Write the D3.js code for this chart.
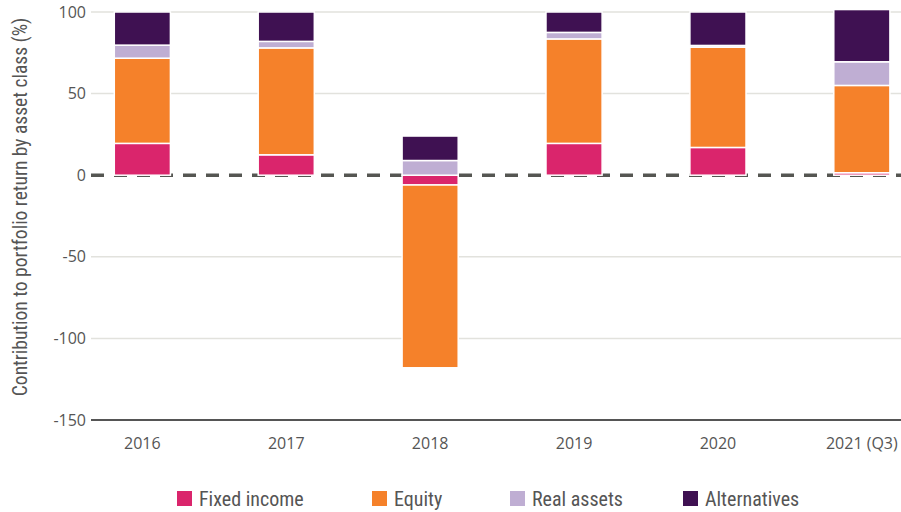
<!DOCTYPE html>
<html>
<head>
<meta charset="utf-8">
<script src="https://cdn.jsdelivr.net/npm/d3@7"></script>
<style>
  body { margin: 0; background: #fff; }
  svg text { fill: #555; }
  .tick-label { font-family: "Open Sans", sans-serif; font-size: 16px; }
  .narrow { font-family: "Liberation Sans Narrow", "Roboto Condensed", Roboto, sans-serif; }
</style>
</head>
<body>
<div id="chart"></div>
<script>
const years = ["2016", "2017", "2018", "2019", "2020", "2021 (Q3)"]
const fixedIncome = [19.5, 12.5, -6, 19.5, 17, 1.5]
const equity = [52.2, 65.5, -112, 64, 61.5, 53.5]
const realAssets = [8, 4, 9, 4, 1, 14.5]
const alternatives = [20.3, 18, 15, 12.5, 20.5, 32]
const yTicks = [100, 50, 0, -50, -100, -150]

const seriesNames = ["Fixed income", "Equity", "Real assets", "Alternatives"]
const colors = ["#da256c", "#f5812a", "#bfaed3", "#3f1152"]

const W = 901, H = 512
const margin = { left: 91, right: 0, top: 12, bottom: 92 }

const rows = years.map((y, i) => ({
    year: y,
    "Fixed income": fixedIncome[i],
    "Equity": equity[i],
    "Real assets": realAssets[i],
    "Alternatives": alternatives[i]
}))

const stacked = d3.stack()
                  .keys(seriesNames)
                  .offset(d3.stackOffsetDiverging)(rows)

const xScale = d3.scaleBand()
                 .domain(years)
                 .range([70.4, 933.8])
                 .paddingInner(0.61)
                 .paddingOuter(0.305)

const yScale = d3.scaleLinear()
                 .domain([-150, 100])
                 .range([H - margin.bottom, margin.top])

const svg = d3.select("#chart")
              .append("svg")
              .attr("width", W)
              .attr("height", H)

// gridlines
svg.append("g")
   .selectAll("line")
   .data(yTicks.filter(t => t !== 0 && t !== -150))
   .join("line")
   .attr("x1", margin.left)
   .attr("x2", W)
   .attr("y1", d => yScale(d))
   .attr("y2", d => yScale(d))
   .attr("stroke", "#e2e2dd")
   .attr("stroke-width", 1.5)

// bottom axis line
svg.append("line")
   .attr("x1", margin.left)
   .attr("x2", W)
   .attr("y1", yScale(-150))
   .attr("y2", yScale(-150))
   .attr("stroke", "#555")
   .attr("stroke-width", 2)

// zero line (dashed)
svg.append("line")
   .attr("x1", margin.left)
   .attr("x2", W)
   .attr("y1", yScale(0))
   .attr("y2", yScale(0))
   .attr("stroke", "#555652")
   .attr("stroke-width", 3.5)
   .attr("stroke-dasharray", "13,10")

// bars
svg.append("g")
   .selectAll("g")
   .data(stacked)
   .join("g")
   .attr("fill", (d, i) => colors[i])
   .selectAll("rect")
   .data(d => d)
   .join("rect")
   .attr("x", d => xScale(d.data.year))
   .attr("width", xScale.bandwidth())
   .attr("y", d => yScale(Math.max(d[0], d[1])))
   .attr("height", d => Math.abs(yScale(d[0]) - yScale(d[1])))
   .attr("stroke", "#fff")
   .attr("stroke-width", 1.5)

// y tick labels
svg.append("g")
   .selectAll("text")
   .data(yTicks)
   .join("text")
   .attr("class", "tick-label")
   .attr("x", 86)
   .attr("y", d => yScale(d))
   .attr("dy", "0.35em")
   .attr("text-anchor", "end")
   .text(d => d < 0 ? "-" + Math.abs(d) : d)

// x labels
svg.append("g")
   .selectAll("text")
   .data(years)
   .join("text")
   .attr("class", "tick-label")
   .attr("x", d => xScale(d) + xScale.bandwidth() / 2)
   .attr("y", 449)
   .attr("text-anchor", "middle")
   .text(d => d)

// y axis title
svg.append("text")
   .attr("class", "narrow")
   .attr("transform", "translate(27,207) rotate(-90)")
   .attr("text-anchor", "middle")
   .style("font-size", "19.5px")
   .text("Contribution to portfolio return by asset class (%)")

// legend
const legendX = [177, 372, 510, 683]
const legend = svg.append("g")
                  .selectAll("g")
                  .data(seriesNames)
                  .join("g")
                  .attr("transform", (d, i) => `translate(${legendX[i]}, 491)`)

legend.append("rect")
      .attr("width", 15)
      .attr("height", 15)
      .attr("fill", (d, i) => colors[i])

legend.append("text")
      .attr("class", "narrow")
      .attr("x", 22)
      .attr("y", 14.5)
      .style("font-size", "20px")
      .text(d => d)
</script>
</body>
</html>
